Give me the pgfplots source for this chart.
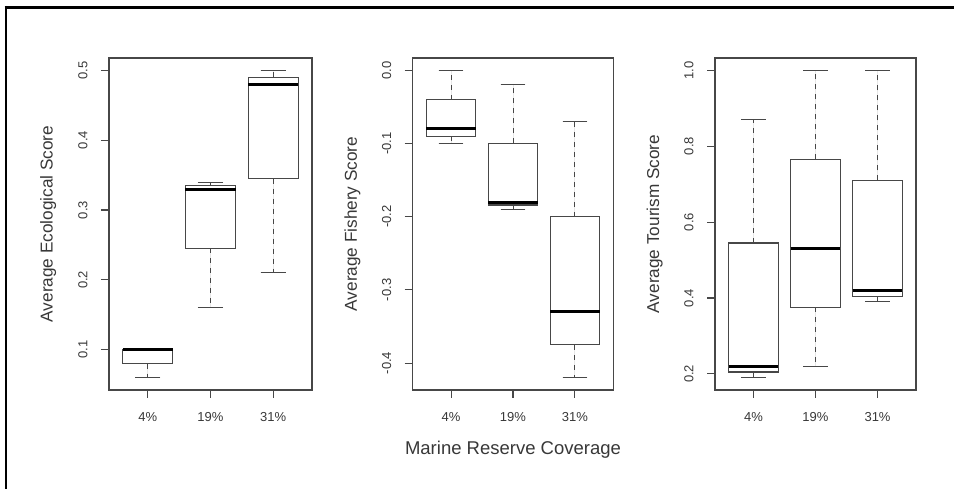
\documentclass[border=0pt]{standalone}
\usepackage{fontspec}
\setmainfont{Liberation Sans}
\usepackage{pgfplots}
\pgfplotsset{compat=1.18}
\usepgfplotslibrary{statistics}
\definecolor{ln}{gray}{0.28}
\definecolor{tx}{gray}{0.22}
\pgfplotsset{
  boxplot/draw/lower whisker/.code={%
    \draw[ln, line width=1pt, dash pattern=on 5pt off 5pt]
      (boxplot cs:\pgfplotsboxplotvalue{lower quartile}) -- (boxplot cs:\pgfplotsboxplotvalue{lower whisker});
    \draw[ln, line width=1pt, solid]
      (boxplot whisker cs:\pgfplotsboxplotvalue{lower whisker},0) -- (boxplot whisker cs:\pgfplotsboxplotvalue{lower whisker},1);
  },
  boxplot/draw/upper whisker/.code={%
    \draw[ln, line width=1pt, dash pattern=on 5pt off 5pt]
      (boxplot cs:\pgfplotsboxplotvalue{upper quartile}) -- (boxplot cs:\pgfplotsboxplotvalue{upper whisker});
    \draw[ln, line width=1pt, solid]
      (boxplot whisker cs:\pgfplotsboxplotvalue{upper whisker},0) -- (boxplot whisker cs:\pgfplotsboxplotvalue{upper whisker},1);
  },
  rbox/.style={
    scale only axis, height=332pt,
    xmin=0.38, xmax=3.62,
    xtick={1,2,3}, xticklabels={4\%,19\%,31\%},
    axis line style={ln, line width=1.1pt},
    tick style={ln, line width=1.1pt},
    tick align=outside, major tick length=8pt,
    xtick pos=left, ytick pos=left,
    /pgf/number format/assume math mode=true,
    yticklabel style={/pgf/number format/fixed, /pgf/number format/fixed zerofill, /pgf/number format/precision=1,
      anchor=center, xshift=-18pt, rotate=90, font=\fontsize{13}{15}\selectfont, text=tx},
    xticklabel style={anchor=center, yshift=-19pt, font=\fontsize{13}{15}\selectfont, text=tx},
    ylabel style={at={(axis description cs:-0.30,0.5)}, anchor=center, font=\fontsize{17.2}{20}\selectfont, text=tx},
    xlabel style={at={(axis description cs:0.5,-0.1807)}, anchor=center, font=\fontsize{18.5}{22}\selectfont, text=tx},
    boxplot/draw direction=y,
    boxplot/box extend=0.8,
    boxplot/whisker extend=0.4,
    boxplot/every median/.style={line width=3pt, draw=black},
  },
  bx/.style={draw=ln, line width=1.1pt, fill=white, solid},
}
\begin{document}
\begin{tikzpicture}
\useasboundingbox (0,0) rectangle (954pt,489pt);
\draw[line width=3pt] (4.5pt,481.5pt) -- (954pt,481.5pt);
\draw[line width=2pt] (5.7pt,483pt) -- (5.7pt,0pt);

% Panel 1: Ecological
\begin{axis}[rbox, width=203pt, at={(109pt,99pt)}, anchor=south west,
  ymin=0.0424, ymax=0.5176, ytick={0.1,0.2,0.3,0.4,0.5},
  ylabel={Average Ecological Score}]
\addplot[bx, boxplot prepared={draw position=1, lower whisker=0.06, lower quartile=0.08, median=0.10, upper quartile=0.101, upper whisker=0.10}] coordinates {};
\addplot[bx, boxplot prepared={draw position=2, lower whisker=0.16, lower quartile=0.245, median=0.33, upper quartile=0.335, upper whisker=0.34}] coordinates {};
\addplot[bx, boxplot prepared={draw position=3, lower whisker=0.21, lower quartile=0.345, median=0.48, upper quartile=0.49, upper whisker=0.50}] coordinates {};
\end{axis}

% Panel 2: Fishery
\begin{axis}[rbox, width=200.6pt, at={(412.7pt,99pt)}, anchor=south west,
  ymin=-0.4368, ymax=0.0168, ytick={-0.4,-0.3,-0.2,-0.1,0},
  ylabel={Average Fishery Score}, xlabel={Marine Reserve Coverage}]
\addplot[bx, boxplot prepared={draw position=1, lower whisker=-0.10, lower quartile=-0.09, median=-0.08, upper quartile=-0.04, upper whisker=0.0}] coordinates {};
\addplot[bx, boxplot prepared={draw position=2, lower whisker=-0.19, lower quartile=-0.184, median=-0.18, upper quartile=-0.10, upper whisker=-0.02}] coordinates {};
\addplot[bx, boxplot prepared={draw position=3, lower whisker=-0.42, lower quartile=-0.375, median=-0.33, upper quartile=-0.20, upper whisker=-0.07}] coordinates {};
\end{axis}

% Panel 3: Tourism
\begin{axis}[rbox, width=201pt, at={(715pt,99pt)}, anchor=south west,
  ymin=0.1576, ymax=1.0324, ytick={0.2,0.4,0.6,0.8,1.0},
  ylabel={Average Tourism Score}]
\addplot[bx, boxplot prepared={draw position=1, lower whisker=0.19, lower quartile=0.205, median=0.22, upper quartile=0.545, upper whisker=0.87}] coordinates {};
\addplot[bx, boxplot prepared={draw position=2, lower whisker=0.22, lower quartile=0.375, median=0.53, upper quartile=0.765, upper whisker=1.0}] coordinates {};
\addplot[bx, boxplot prepared={draw position=3, lower whisker=0.39, lower quartile=0.405, median=0.42, upper quartile=0.71, upper whisker=1.0}] coordinates {};
\end{axis}
\end{tikzpicture}
\end{document}
